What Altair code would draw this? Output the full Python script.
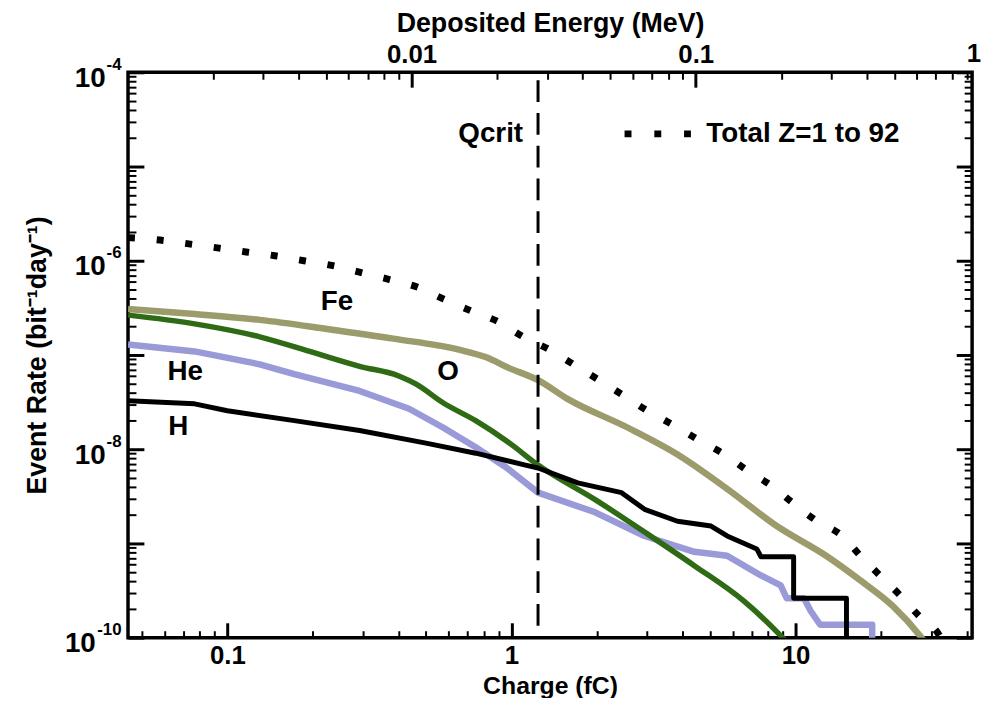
import altair as alt
import pandas as pd

FONT = "Liberation Sans"

# ---- axis ranges ----
X_MIN, X_MAX = 0.0447, 41.8      # charge, fC
Y_MIN, Y_MAX = 1e-10, 1e-4       # event rate
FC_PER_MEV = 44.5                # charge per MeV deposited in Si
QCRIT = 1.24                     # fC

# ---- series (charge fC, rate bit^-1 day^-1) ----
total_charge = [0.0447, 0.0578, 0.0731, 0.0923, 0.1164, 0.147, 0.186, 0.235, 0.296, 0.372,
                0.469, 0.578, 0.724, 0.902, 1.10, 1.36, 1.65, 2.01, 2.46, 3.01, 3.74, 4.58,
                5.60, 6.79, 8.32, 9.93, 11.9, 14.6, 16.9, 19.8, 23.3, 27.4, 32.1, 33.0]
total_rate = [1.76e-6, 1.66e-6, 1.51e-6, 1.37e-6, 1.24e-6, 1.13e-6, 1.00e-6, 8.87e-7, 7.48e-7, 6.32e-7,
              5.21e-7, 3.91e-7, 2.92e-7, 2.24e-7, 1.56e-7, 1.14e-7, 7.96e-8, 5.53e-8, 3.77e-8, 2.56e-8,
              1.78e-8, 1.24e-8, 8.87e-9, 5.89e-9, 4.00e-9, 2.59e-9, 1.72e-9, 1.20e-9, 7.40e-10,
              4.57e-10, 2.82e-10, 1.66e-10, 1.05e-10, 9.0e-11]

fe_charge = [0.0447, 0.0767, 0.130, 0.224, 0.384, 0.653, 0.811, 0.977, 1.24, 1.58, 2.56, 3.84,
             5.74, 8.58, 12.8, 16.9, 22.0, 27.4, 28.5]
fe_rate = [3.07e-7, 2.72e-7, 2.36e-7, 1.89e-7, 1.49e-7, 1.14e-7, 9.50e-8, 7.30e-8, 5.41e-8, 3.40e-8,
           1.70e-8, 8.80e-9, 3.80e-9, 1.53e-9, 7.40e-10, 4.05e-10, 2.16e-10, 1.05e-10, 9.0e-11]

o_charge = [0.0447, 0.0767, 0.130, 0.195, 0.292, 0.403, 0.462, 0.574, 0.748, 0.977, 1.24, 1.97,
            2.94, 4.40, 6.58, 8.86, 9.3]
o_rate = [2.65e-7, 2.14e-7, 1.56e-7, 1.09e-7, 7.59e-8, 5.96e-8, 4.91e-8, 3.11e-8, 2.01e-8, 1.18e-8,
          6.79e-9, 2.92e-9, 1.32e-9, 5.81e-10, 2.44e-10, 1.05e-10, 9.0e-11]

he_charge = [0.0447, 0.0767, 0.130, 0.172, 0.292, 0.436, 0.574, 0.748, 0.953, 1.24, 1.97, 2.94,
             4.40, 5.74, 7.55, 8.86, 9.30, 10.7, 11.3, 12.2, 18.6, 18.6]
he_rate = [1.29e-7, 1.09e-7, 7.96e-8, 6.25e-8, 4.15e-8, 2.69e-8, 1.70e-8, 1.05e-8, 6.48e-9, 3.46e-9,
           2.14e-9, 1.20e-9, 8.15e-10, 7.40e-10, 4.57e-10, 3.59e-10, 2.62e-10, 2.62e-10, 1.92e-10,
           1.37e-10, 1.37e-10, 9.0e-11]

h_charge = [0.0447, 0.0767, 0.100, 0.172, 0.292, 0.500, 0.748, 1.12, 1.24, 1.71, 2.44, 2.94,
            3.84, 5.04, 5.74, 7.30, 7.55, 9.84, 9.84, 15.1, 15.1]
h_rate = [3.26e-8, 3.03e-8, 2.56e-8, 2.01e-8, 1.58e-8, 1.16e-8, 9.07e-9, 6.79e-9, 6.32e-9, 4.40e-9,
          3.46e-9, 2.30e-9, 1.72e-9, 1.53e-9, 1.20e-9, 8.75e-10, 7.22e-10, 7.22e-10, 2.62e-10,
          2.62e-10, 9.0e-11]

# ---- in-plot labels ----
label_text = ["Fe", "He", "O", "H", "Qcrit"]
label_charge = [0.243, 0.0711, 0.598, 0.0672, 0.845]
label_rate = [3.61e-7, 6.62e-8, 6.62e-8, 1.71e-8, 2.22e-5]

legend_text = "Total Z=1 to 92"
legend_line_charge = [2.50, 4.28]
legend_text_charge = 4.85
legend_rate = 2.22e-5

# ---- ticks ----
x_major = [0.1, 1, 10]
x_minor = [0.05, 0.06, 0.07, 0.08, 0.09, 0.2, 0.3, 0.4, 0.5, 0.6, 0.7, 0.8, 0.9,
           2, 3, 4, 5, 6, 7, 8, 9, 20, 30, 40]
e_major = [0.01, 0.1]                   # MeV
e_minor = [0.002, 0.003, 0.004, 0.005, 0.006, 0.007, 0.008, 0.009,
           0.02, 0.03, 0.04, 0.05, 0.06, 0.07, 0.08, 0.09,
           0.2, 0.3, 0.4, 0.5, 0.6, 0.7, 0.8, 0.9]
y_major = [1e-10, 1e-9, 1e-8, 1e-7, 1e-6, 1e-5, 1e-4]
y_labeled = [1e-10, 1e-8, 1e-6, 1e-4]
y_labeled_short = [1e-8, 1e-6, 1e-4]     # one-digit exponents
y_labeled_long = [1e-10]                 # two-digit exponent
y_minor = [m * 10.0 ** e for e in range(-10, -4) for m in range(2, 10)]

xscale = alt.Scale(type="log", domain=[X_MIN, X_MAX])
yscale = alt.Scale(type="log", domain=[Y_MIN, Y_MAX])


def series_df(cs, rs):
    return pd.DataFrame({"charge": cs, "rate": rs, "idx": list(range(len(cs)))})


def line(df, color, width, **kw):
    return alt.Chart(df).mark_line(color=color, strokeWidth=width, clip=True,
                                   strokeJoin="round", **kw).encode(
        x=alt.X("charge:Q", scale=xscale, axis=None),
        y=alt.Y("rate:Q", scale=yscale, axis=None),
        order="idx:Q",
    )


fe = line(series_df(fe_charge, fe_rate), "#9b9b6c", 6.5, interpolate="monotone")
he = line(series_df(he_charge, he_rate), "#9a9ad8", 6.5)
o_ = line(series_df(o_charge, o_rate), "#2f6a14", 5.5, interpolate="monotone")
h_ = line(series_df(h_charge, h_rate), "#000000", 5)
total = line(series_df(total_charge, total_rate), "#000000", 7,
             strokeDash=[7, 22], strokeCap="butt", interpolate="monotone")
legend_line = line(series_df(legend_line_charge, [legend_rate] * 2), "#000000", 7,
                   strokeDash=[7, 23], strokeCap="butt")

qcrit = alt.Chart(pd.DataFrame({"charge": [QCRIT]})).mark_rule(
    color="black", strokeWidth=3, strokeDash=[22, 11], strokeDashOffset=-8).encode(
    x=alt.X("charge:Q", scale=xscale, axis=None))

labels_df = pd.DataFrame({"charge": label_charge, "rate": label_rate, "t": label_text})
labels = alt.Chart(labels_df).mark_text(font=FONT, fontWeight="bold", fontSize=28,
                                        color="black", align="center", baseline="middle").encode(
    x=alt.X("charge:Q", scale=xscale, axis=None),
    y=alt.Y("rate:Q", scale=yscale, axis=None),
    text="t:N")

legend_label = alt.Chart(pd.DataFrame({"charge": [legend_text_charge], "rate": [legend_rate],
                                       "t": [legend_text]})).mark_text(
    font=FONT, fontWeight="bold", fontSize=28, color="black", align="left", baseline="middle").encode(
    x=alt.X("charge:Q", scale=xscale, axis=None),
    y=alt.Y("rate:Q", scale=yscale, axis=None),
    text="t:N")

# label "1" (MeV) just beyond the right edge of the top axis
one_mev = alt.Chart(pd.DataFrame({"charge": [1.0 * FC_PER_MEV], "t": ["1"]})).mark_text(
    font=FONT, fontWeight="bold", fontSize=26, color="black", align="center",
    baseline="bottom", dx=-6).encode(
    x=alt.X("charge:Q", scale=xscale, axis=None),
    y=alt.value(-5),
    text="t:N")

dummy = pd.DataFrame({"charge": [1.0], "rate": [1e-7]})


def xaxis_layer(axis):
    return alt.Chart(dummy).mark_point(opacity=0).encode(
        x=alt.X("charge:Q", scale=xscale, axis=axis),
        y=alt.Y("rate:Q", scale=yscale, axis=None))


def yaxis_layer(axis):
    return alt.Chart(dummy).mark_point(opacity=0).encode(
        x=alt.X("charge:Q", scale=xscale, axis=None),
        y=alt.Y("rate:Q", scale=yscale, axis=axis))


common = dict(domain=False, grid=False, tickColor="black", labelOverlap=False)

bottom_major = xaxis_layer(alt.Axis(orient="bottom", values=x_major, offset=-15, tickSize=15,
                                    tickWidth=3, format="~g", labelFontSize=26, labelPadding=5,
                                    title="Charge (fC)", titleFontSize=25, titlePadding=5,
                                    labelFlush=False, **common))
bottom_minor = xaxis_layer(alt.Axis(orient="bottom", values=x_minor, offset=-7, tickSize=7,
                                    tickWidth=2, labels=False, title=None, **common))
top_major = xaxis_layer(alt.Axis(orient="top", values=[v * FC_PER_MEV for v in e_major],
                                 offset=-15, tickSize=15, tickWidth=3,
                                 labelExpr="format(datum.value / %s, '~g')" % FC_PER_MEV,
                                 labelFontSize=26, labelPadding=5, labelFlush=False,
                                 title="Deposited Energy (MeV)", titleFontSize=27, titlePadding=4,
                                 **common))
top_minor = xaxis_layer(alt.Axis(orient="top", values=[v * FC_PER_MEV for v in e_minor],
                                 offset=-7, tickSize=7, tickWidth=2, labels=False, title=None,
                                 **common))

# y labels: base "10" and its exponent drawn as separate label rows
EXP = "round(log(datum.value)/LN10)"
left_major = yaxis_layer(alt.Axis(orient="left", values=y_major, offset=-16, tickSize=16,
                                  tickWidth=3, labels=False,
                                  title="Event Rate (bit⁻¹day⁻¹)", titleFontSize=27,
                                  titlePadding=76, **common))
left_base_short = yaxis_layer(alt.Axis(orient="left", values=y_labeled_short, offset=0,
                                       tickSize=0, ticks=False, labelExpr="'10'",
                                       labelFontSize=28, labelPadding=23, labelOffset=6,
                                       title=None, **common))
left_base_long = yaxis_layer(alt.Axis(orient="left", values=y_labeled_long, offset=0,
                                      tickSize=0, ticks=False, labelExpr="'10'",
                                      labelFontSize=28, labelPadding=33, labelOffset=6,
                                      title=None, **common))
left_exp = yaxis_layer(alt.Axis(orient="left", values=y_labeled, offset=0, tickSize=0, ticks=False,
                                labelExpr="'-' + abs(%s)" % EXP,
                                labelFontSize=17, labelPadding=7, labelOffset=-8,
                                title=None, **common))
left_minor = yaxis_layer(alt.Axis(orient="left", values=y_minor, offset=-8, tickSize=8,
                                  tickWidth=2, labels=False, title=None, **common))
right_major = yaxis_layer(alt.Axis(orient="right", values=y_major, offset=-16, tickSize=16,
                                   tickWidth=3, labels=False, title=None, **common))
right_minor = yaxis_layer(alt.Axis(orient="right", values=y_minor, offset=-8, tickSize=8,
                                   tickWidth=2, labels=False, title=None, **common))

chart = alt.layer(
    bottom_major, bottom_minor, top_major, top_minor,
    left_major, left_base_short, left_base_long, left_exp, left_minor, right_major, right_minor,
    fe, he, o_, h_, total, qcrit, legend_line, labels, legend_label, one_mev,
).resolve_axis(x="independent", y="independent").properties(
    width=851, height=570,
    autosize=alt.AutoSizeParams(type="none"),
    padding={"left": 121, "top": 62, "right": 13, "bottom": 58},
    background="white",
).configure_view(
    stroke="black", strokeWidth=3.5
).configure_axis(
    labelFont=FONT, titleFont=FONT, labelFontWeight="bold", titleFontWeight="bold",
    labelColor="black", titleColor="black",
)

chart.save("out.html", embed_options={"renderer": "svg", "actions": False})
